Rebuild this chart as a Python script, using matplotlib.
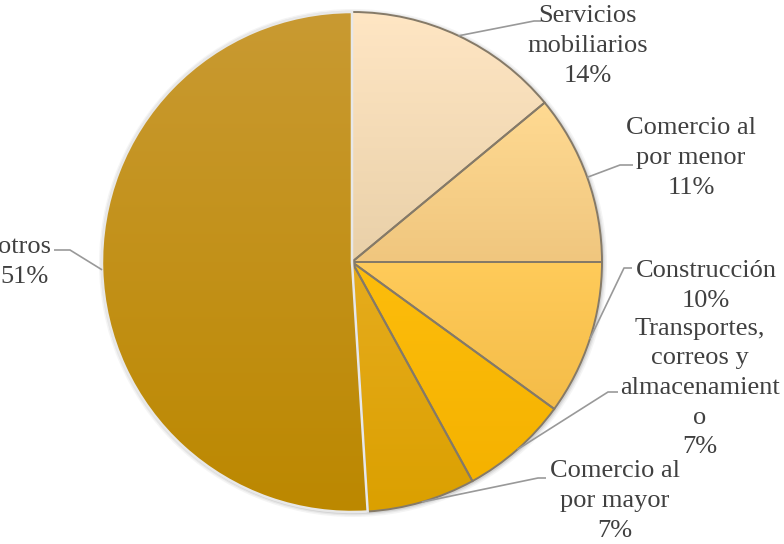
import numpy as np
import matplotlib
matplotlib.use("Agg")
import matplotlib.pyplot as plt
from matplotlib.colors import to_rgb
from matplotlib.patches import Circle

# Sector shares (%)
sectors = ["Servicios\nmobiliarios", "Comercio al\npor menor", "Construcción",
           "Transportes,\ncorreos y\nalmacenamient\no", "Comercio al\npor mayor", "otros"]
shares = [14, 11, 10, 7, 7, 51]

# Vertical gradient (top colour, bottom colour) for each sector
top_colors = ["#FFE6C4", "#FFDA92", "#FFCB5A", "#FDBD0C", "#E6AC1E", "#C99A32"]
bottom_colors = ["#E9D0A8", "#F0C67E", "#F4BC48", "#F5B200", "#DBA000", "#BC8800"]
explode = [0, 0, 0, 0, 0, 0.016]

W, H = 784, 544
fig = plt.figure(figsize=(W / 100, H / 100), dpi=100)
ax = fig.add_axes([0, 0, 1, 1])

cx, cy, R = 352, H - 262, 250

# soft shadow under the pie
for k, a in [(4, 0.10), (2.5, 0.15), (1.2, 0.25)]:
    ax.add_patch(Circle((cx + 1, cy - 1), R + k, color="#9a9a9a", alpha=a, lw=0, zorder=0))

wedges, _ = ax.pie(shares, startangle=90, counterclock=False, center=(cx, cy), radius=R,
                   explode=explode, colors=top_colors,
                   wedgeprops=dict(edgecolor="#857a68", linewidth=1.4))

ax.set_xlim(0, W)
ax.set_ylim(0, H)
ax.set_aspect("auto")
ax.axis("off")

# fill each wedge with its vertical gradient
n = 256
for w, ctop, cbot in zip(wedges, top_colors, bottom_colors):
    ext = w.get_path().get_extents()
    t = np.linspace(0, 1, n)[:, None]
    c0, c1 = np.array(to_rgb(cbot)), np.array(to_rgb(ctop))
    img = (c0 + (c1 - c0) * t)[:, None, :].reshape(n, 1, 3)
    im = ax.imshow(img, extent=(ext.x0, ext.x1, ext.y0, ext.y1), origin="lower",
                   aspect="auto", zorder=w.get_zorder() - 0.05, interpolation="bilinear")
    im.set_clip_path(w)
    w.set_facecolor("none")

# the large "otros" wedge is separated by a light edge
wedges[-1].set_edgecolor("#e8e8e8")
wedges[-1].set_linewidth(1.8)

ax.set_xlim(0, W)
ax.set_ylim(0, H)

# label positions (text-block centre) and leader-line bends
label_xy = [(588, 46), (691, 158), (706, 286), (700, 388), (615, 501), (25, 262)]
leader_pts = [
    [(534, 21), (541, 21)],
    [(620, 165), (633, 165)],
    [(624, 268), (632, 268)],
    [(608, 392), (618, 392)],
    [(538, 478), (546, 478)],
    [(70, 250), (54, 250)],
]

text_color = "#404040"
line_color = "#999999"
for w, name, val, (lx, ly), pts in zip(wedges, sectors, shares, label_xy, leader_pts):
    ang = np.deg2rad((w.theta1 + w.theta2) / 2)
    wx, wy = w.center
    start = (wx + R * np.cos(ang), wy + R * np.sin(ang))
    xs = [start[0]] + [p[0] for p in pts]
    ys = [start[1]] + [H - p[1] for p in pts]
    ax.plot(xs, ys, color=line_color, lw=1.2, zorder=5, solid_capstyle="butt")
    ax.text(lx, H - ly, f"{name}\n{val}%", ha="center", va="center", multialignment="center",
            fontsize=19, family="Liberation Serif", color=text_color, linespacing=1.45, zorder=6)

fig.savefig("out.png", dpi=100)
